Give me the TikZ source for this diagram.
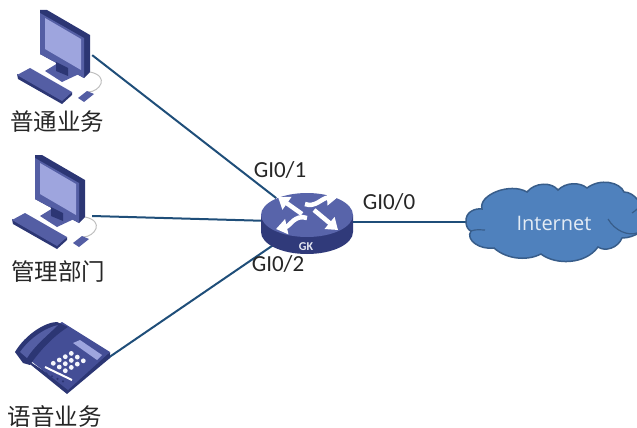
\documentclass[tikz,border=0pt]{standalone}
\usepackage{fontspec}
\setmainfont{Carlito}
\newfontfamily\cjkfont{Noto Sans CJK SC}
\newfontfamily\cloudfont{Open Sans}
\usetikzlibrary{shapes.geometric, positioning, calc, arrows.meta}
\definecolor{linkblue}{RGB}{31,78,121}
\definecolor{iconmid}{RGB}{84,94,164}
\definecolor{icondark}{RGB}{44,54,116}
\definecolor{iconlight}{RGB}{158,165,222}
\definecolor{phonebody}{RGB}{68,78,150}
\definecolor{routertop}{RGB}{88,100,170}
\definecolor{routerside}{RGB}{48,58,122}
\definecolor{cloudfill}{RGB}{79,129,189}
\definecolor{cloudedge}{RGB}{56,93,138}
\definecolor{labelgray}{RGB}{38,38,38}
\tikzset{
    netline/.style={draw=linkblue, line width=2pt},
    port/.style={inner sep=0pt, minimum size=0pt},
    gklabel/.style={font=\fontsize{23}{23}\selectfont, text=labelgray, inner sep=0pt},
    hostlabel/.style={font=\cjkfont\fontsize{23.5}{23.5}\selectfont, text=labelgray, inner sep=0pt},
    gkbody/.style={ellipse, inner sep=0pt, minimum width=92pt, minimum height=64pt},
    arrowwhite/.style={draw=white, line width=4.5pt, -{Triangle[width=15pt,length=11pt]}},
    pcicon/.pic={
        % Draw monitor
        \fill[icondark] (40,10) -- (47,10) -- (90,35) -- (90,72) -- (84,78) -- (40,54) -- cycle;
        \fill[iconmid] (40,13) -- (84,38) -- (84,78) -- (40,54) -- cycle;
        \fill[iconlight] (45,18) -- (81,39) -- (81,70) -- (45,49) -- cycle;
        % Draw stand
        \fill[iconmid] (45,71) -- (58,63) -- (79,74) -- (62,82) -- cycle;
        \fill[icondark] (56,62) -- (68,68) -- (68,76) -- (56,71) -- cycle;
        % Draw keyboard
        \fill[icondark] (17,74) -- (62,100) -- (72,92) -- (72,95) -- (62,104) -- (18,79) -- cycle;
        \fill[iconmid] (17,75) -- (30,68) -- (72,92) -- (62,101) -- cycle;
        % Draw mouse
        \draw[black!25, line width=1pt] (88,92) .. controls (100,92) and (110,76) .. (90,72);
        \fill[iconmid] (78,98) -- (87,91) -- (94,94) -- (84,102) -- cycle;
    },
}
\begin{document}
\begin{tikzpicture}[x=1pt, y=-1pt]
    \useasboundingbox (0,0) rectangle (637,428);
    \clip (0,0) rectangle (637,428);

    % Define the nodes
    \node[port] (pcA) at (92,55) {};
    \node[port] (pcB) at (92,216) {};
    \node[port] (phone) at (108,358) {};
    \node[gkbody] (gk) at (307,222) {};
    \node[port] (cloud) at (468,222) {};

    % Draw links
    \draw[netline] (pcA) -- (gk);
    \draw[netline] (pcB) -- (gk);
    \draw[netline] (phone) -- (gk);
    \draw[netline] (gk) -- (cloud);

    % Draw computers
    \pic at (0,0) {pcicon};
    \pic at (-5,145) {pcicon};

    % Draw telephone
    \fill[icondark] (15,352) -- (67,394) -- (110,358) -- (110,352) -- (67,386) -- cycle;
    \fill[phonebody] (17,350) -- (62,322) -- (110,352) -- (68,390) -- cycle;
    \fill[icondark] (15,352) .. controls (25,335) and (45,322) .. (57,322)
        -- (68,327) .. controls (55,335) and (40,350) .. (30,365) -- (23,363) -- cycle;
    \fill[iconmid] (20,352) .. controls (30,338) and (45,328) .. (58,325)
        .. controls (48,335) and (35,345) .. (27,358) -- cycle;
    \fill[iconlight] (73,343) -- (80,340) -- (102,355) -- (97,360) -- cycle;
    \foreach \i in {0,1,2,3} {
        \foreach \j in {0,1,2} {
            \fill[white!90!iconlight] ($(53.3,363.3)+\i*(6,-3.3)+\j*(6,3.7)$) circle (2.4);
        }
    }
    \draw[white, line width=2pt] (45,367) -- (72,380);
    \foreach \i in {0,1,2,3,4} {
        \fill[icondark] ($(41,371)+\i*(5.5,2.6)$) circle (1.2);
    }

    % Draw router
    \fill[routerside] (261,215) -- (261,232) arc[start angle=180, end angle=0, x radius=46, y radius=22]
        -- (353,215) -- cycle;
    \fill[routertop] (307,215) ellipse (46 and 22);
    \draw[arrowwhite] (302,214) -- (278,197);
    \draw[arrowwhite] (305,204) .. controls (315,208) and (322,198) .. (338,197);
    \draw[arrowwhite] (307,218) .. controls (295,214) and (290,226) .. (276,229);
    \draw[arrowwhite] (314,210) -- (338,230);
    \node[font=\bfseries\fontsize{12}{12}\selectfont, text=white!85!routertop, inner sep=0pt] (gktext) at (306,247) {GK};

    % Draw cloud
    \fill[cloudfill, draw=cloudedge, line width=1.5pt]
        (466,222) .. controls (465,212) and (475,208) .. (482,209)
        .. controls (478,195) and (510,182) .. (527,192)
        .. controls (535,182) and (552,182) .. (558,190)
        .. controls (566,182) and (580,182) .. (587,188)
        .. controls (600,178) and (620,182) .. (624,192)
        .. controls (634,192) and (645,205) .. (640,215)
        -- (640,232)
        .. controls (635,236) and (628,238) .. (622,238)
        .. controls (618,248) and (605,252) .. (598,247)
        .. controls (585,265) and (555,265) .. (541,254)
        .. controls (525,262) and (505,258) .. (494,248)
        .. controls (480,250) and (465,240) .. (471,231)
        .. controls (468,230) and (466,226) .. (466,222) -- cycle;
    \draw[cloudedge, line width=1.2pt] (471,231) .. controls (476,229) and (481,230) .. (485,230);
    \draw[cloudedge, line width=1.2pt] (608,219) .. controls (615,231) and (628,236) .. (637,233);
    \draw[cloudedge, line width=1.2pt] (632,213) .. controls (634,212) and (636,210) .. (637,209);
    \node[font=\cloudfont\fontsize{20}{20}\selectfont, text=white!85!cloudfill, inner sep=0pt] (internet) at (554,223) {Internet};

    % Add labels
    \node[hostlabel] (hostA) at (57,122) {普通业务};
    \node[hostlabel] (hostB) at (58,272) {管理部门};
    \node[hostlabel] (hostC) at (55,416) {语音业务};
    \node[gklabel] (portA) at (280,170) {GI0/1};
    \node[gklabel] (portB) at (278,264) {GI0/2};
    \node[gklabel] (portC) at (389,202) {GI0/0};
\end{tikzpicture}
\end{document}
